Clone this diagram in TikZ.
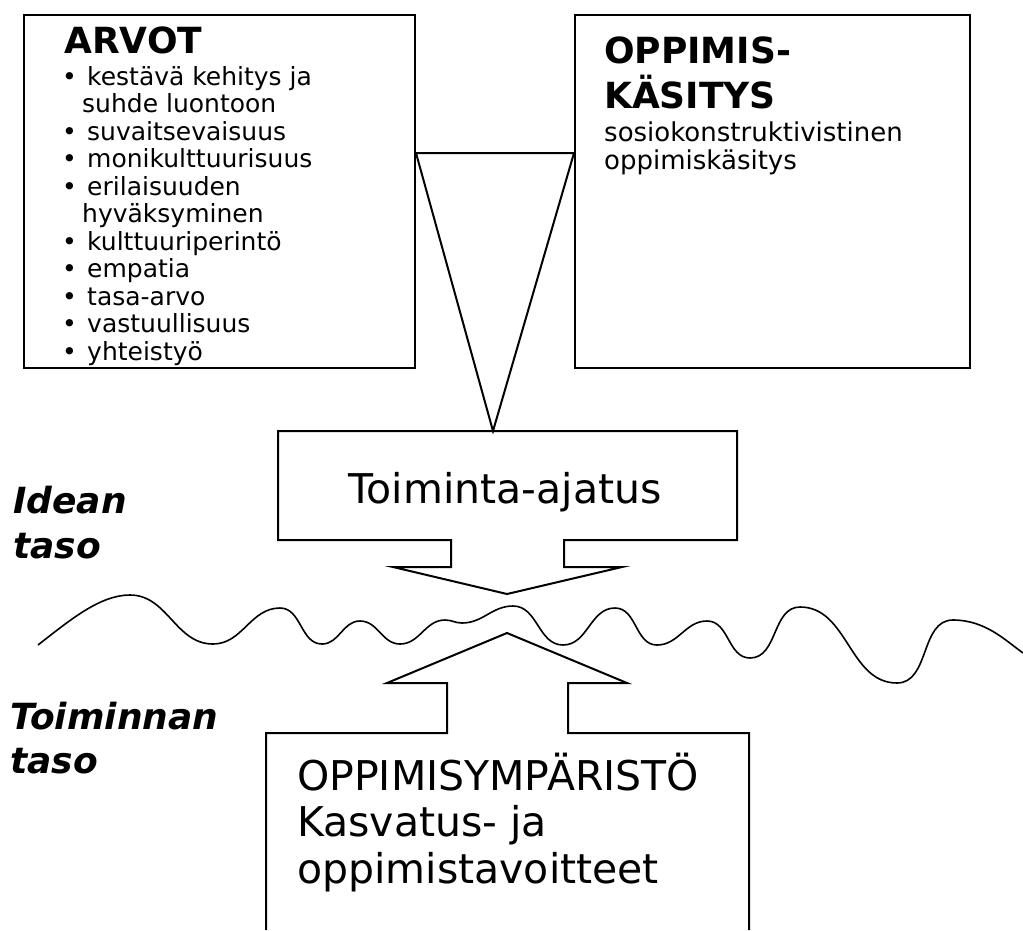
\documentclass[tikz,border=0pt]{standalone}
\usepackage{fontspec}
\setmainfont{DejaVu Sans}
\newcommand{\arvobul}{\makebox[25pt][l]{•}}
\newcommand{\arvocont}{\hspace*{20pt}}

\begin{document}
\begin{tikzpicture}[x=1pt, y=-1pt]
\tikzstyle{mybox} = [draw, rectangle, line width = 2pt, inner sep = 0 pt]
\tikzstyle{mytext} = [inner sep = 0 pt, anchor = base west]
\tikzstyle{myline} = [line width = 2pt, line join = miter]
\tikzstyle{taso} = [mytext, font = \fontsize{36}{40}\selectfont\bfseries\itshape]
\useasboundingbox (0,0) rectangle (1023,930);

\node [mybox, minimum width = 391pt, minimum height = 353pt] (arvot) at (219.5,191.5) {};
\node [mybox, minimum width = 395pt, minimum height = 353pt] (kasitys) at (772.5,191.5) {};
\coordinate (karki) at (493,431);
\draw [myline] (arvot.east |- 0,153) -- (kasitys.west |- 0,153) -- (karki) -- cycle;

\node [mytext, font = \fontsize{36}{40}\selectfont\bfseries] (arvotitle) at (64,53) {ARVOT};
\foreach \rivi [count = \i] in {\arvobul kestävä kehitys ja, \arvocont suhde luontoon,
  \arvobul suvaitsevaisuus, \arvobul monikulttuurisuus, \arvobul erilaisuuden,
  \arvocont hyväksyminen, \arvobul kulttuuriperintö, \arvobul empatia,
  \arvobul tasa-arvo, \arvobul vastuullisuus, \arvobul yhteistyö}
  \node [mytext, font = \fontsize{25}{27}\selectfont] (rivi\i) at (62, 57.5 + 27.5*\i) {\rivi};

\node [mytext, font = \fontsize{36}{40}\selectfont\bfseries] (kasi1) at (604,63) {OPPIMIS-};
\node [mytext, font = \fontsize{36}{40}\selectfont\bfseries] (kasi2) at (604,108) {KÄSITYS};
\node [mytext, font = \fontsize{26}{28}\selectfont] (kasi3) at (604,141) {sosiokonstruktivistinen};
\node [mytext, font = \fontsize{26}{28}\selectfont] (kasi4) at (604,169) {oppimiskäsitys};

\draw [myline] (278,540) -- (278,431) -- (737,431) -- (737,540) -- (564,540) -- (564,567)
  -- (622,567) -- (507,594) -- (393,567) -- (451,567) -- (451,540) -- cycle;
\node [inner sep = 0 pt, anchor = base, font = \fontsize{41}{46}\selectfont] (ajatus) at (505,503) {Toiminta-ajatus};

\draw [line width = 1.6pt, out = 0, in = 180] (38,645) .. controls (70,620) and (100,595) .. (130,595)
  to (213,644) to (280,608) to (322,644) to (360,621) to (400,644) to (445,620) to (462,623)
  to (513,606) to (563,645) to (615,608) to (657,645) to (707,621) to (750,658) to (800,607)
  to (897,683) to (953,620) .. controls (985,620) and (1005,640) .. (1023,653);

\draw [myline] (266,930) -- (266,733) -- (447,733) -- (447,683) -- (387,683) -- (507,633)
  -- (627,683) -- (568,683) -- (568,733) -- (749,733) -- (749,930);
\foreach \rivi [count = \i] in {OPPIMISYMPÄRISTÖ, Kasvatus-\ ja, oppimistavoitteet}
  \node [mytext, font = \fontsize{41}{46}\selectfont] (ymp\i) at (297, 743.5 + 46.5*\i) {\rivi};

\node [taso] (idea1) at (13,513) {Idean};
\node [taso] (idea2) at (13,558) {taso};
\node [taso] (toim1) at (10,729) {Toiminnan};
\node [taso] (toim2) at (10,773) {taso};
\end{tikzpicture}
\end{document}
